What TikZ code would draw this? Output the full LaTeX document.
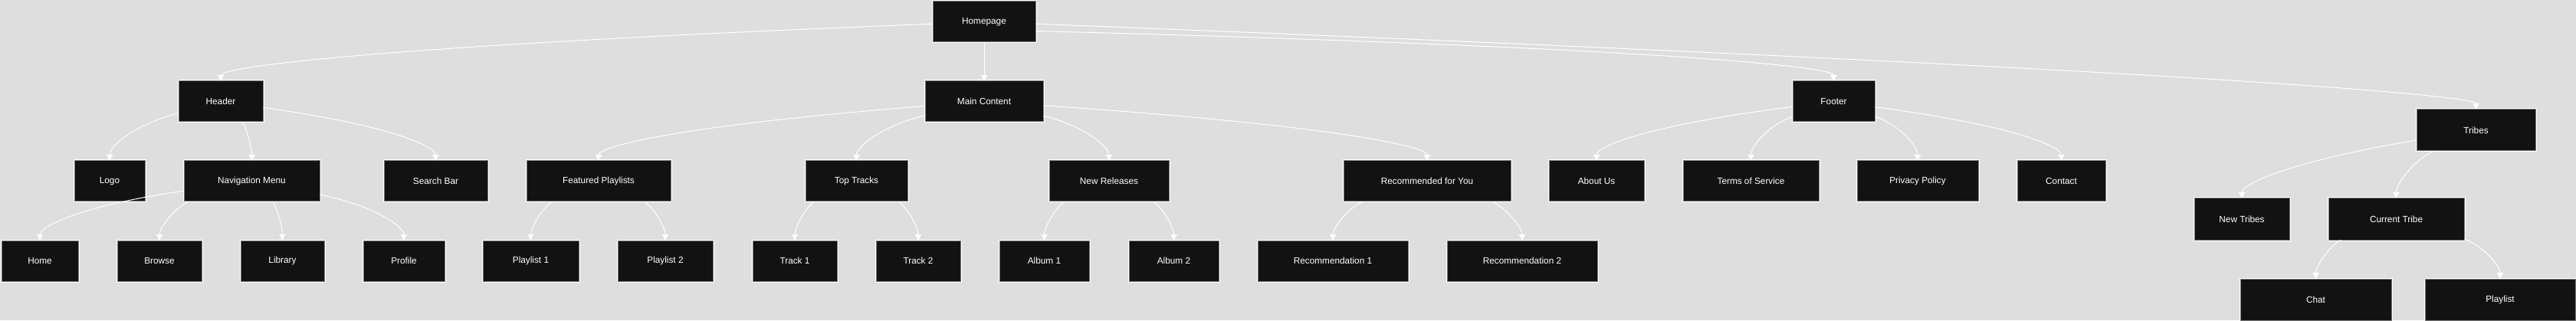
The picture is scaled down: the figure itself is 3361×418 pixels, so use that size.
\documentclass[tikz,border=0pt]{standalone}
\usepackage{fontspec}
\setmainfont{Liberation Sans}
\usepackage{tikz}
\usetikzlibrary{arrows.meta,calc}
\usepackage{xcolor}
\definecolor{canvas}{HTML}{DEDEDE}
\definecolor{boxfill}{HTML}{121212}
\definecolor{boxline}{HTML}{7A7A7A}

\begin{document}
\begin{tikzpicture}[x=1pt, y=1pt,
  page/.style={fill=boxfill, draw=boxline, line width=1pt,
    preaction={draw=white, line width=3pt},
    text=white, font=\fontsize{11.8}{14}\selectfont,
    minimum height=53pt, inner sep=0pt},
  link/.style={white, line width=1pt, -{Triangle[width=8.5pt,length=7.5pt]}}]
  \useasboundingbox (0,0) rectangle (3361,418);
  \fill[canvas] (0,0) rectangle (3361,418);
  % top level
  \node[page, minimum width=134pt] (home) at (1284,389.5) {Homepage};
  \node[page, minimum width=110pt] (hdr) at (288,285.5) {Header};
  \node[page, minimum width=154pt] (main) at (1284,285.5) {Main Content};
  \node[page, minimum width=107pt] (foot) at (2392.5,285.5) {Footer};
  \node[page, minimum width=155pt, minimum height=54pt] (tribes) at (3230.5,248) {Tribes};
  % sections
  \node[page, minimum width=92pt] (logo) at (143,181.5) {Logo};
  \node[page, minimum width=177pt] (nav) at (328.5,181.5) {Navigation Menu};
  \node[page, minimum width=135pt] (search) at (568.5,181.5) {Search Bar};
  \node[page, minimum width=188pt] (feat) at (781,181.5) {Featured Playlists};
  \node[page, minimum width=133pt] (top) at (1117.5,181.5) {Top Tracks};
  \node[page, minimum width=156pt] (newrel) at (1447,181.5) {New Releases};
  \node[page, minimum width=218pt] (rec) at (1862,181.5) {Recommended for You};
  \node[page, minimum width=124pt] (about) at (2083,181.5) {About Us};
  \node[page, minimum width=177pt] (terms) at (2284.5,181.5) {Terms of Service};
  \node[page, minimum width=158pt] (privacy) at (2502,181.5) {Privacy Policy};
  \node[page, minimum width=115pt] (contact) at (2689.5,181.5) {Contact};
  \node[page, minimum width=124pt, minimum height=54pt] (newtr) at (2925,132) {New Tribes};
  \node[page, minimum width=177pt, minimum height=54pt] (curtr) at (3126.5,132) {Current Tribe};
  % leaves
  \node[page, minimum width=100pt] (homebtn) at (52,77.5) {Home};
  \node[page, minimum width=110pt] (browse) at (208,77.5) {Browse};
  \node[page, minimum width=109pt] (library) at (368.5,77.5) {Library};
  \node[page, minimum width=106pt] (profile) at (527,77.5) {Profile};
  \node[page, minimum width=125pt] (pl1) at (692.5,77.5) {Playlist 1};
  \node[page, minimum width=124pt] (pl2) at (868,77.5) {Playlist 2};
  \node[page, minimum width=110pt] (tr1) at (1037,77.5) {Track 1};
  \node[page, minimum width=110pt] (tr2) at (1198,77.5) {Track 2};
  \node[page, minimum width=117pt] (al1) at (1362.5,77.5) {Album 1};
  \node[page, minimum width=117pt] (al2) at (1531.5,77.5) {Album 2};
  \node[page, minimum width=196pt] (rec1) at (1739,77.5) {Recommendation 1};
  \node[page, minimum width=196pt] (rec2) at (1986,77.5) {Recommendation 2};
  \node[page, minimum width=197pt, minimum height=54pt] (chat) at (3021.5,27) {Chat};
  \node[page, minimum width=196pt, minimum height=54pt] (plist) at (3262,27) {Playlist};
  % links
  \foreach \a/\b in {home/hdr, home/main, home/tribes,
      hdr/logo, hdr/nav, hdr/search,
      nav/homebtn, nav/browse, nav/library, nav/profile,
      main/feat, main/top, main/newrel, main/rec,
      feat/pl1, feat/pl2, top/tr1, top/tr2,
      newrel/al1, newrel/al2, rec/rec1, rec/rec2,
      foot/about, foot/terms, foot/privacy, foot/contact,
      tribes/newtr, tribes/curtr, curtr/chat, curtr/plist}
    \draw[link] (\a) .. controls ($(\a)!0.8!(\b.north)+(0,30)$)
      and ($(\b.north)+(0,18)$) .. (\b.north);
  \draw[link] ([yshift=-12pt]home.east) .. controls ($(home)!0.8!(foot.north)+(0,28)$)
    and ($(foot.north)+(0,18)$) .. (foot.north);
\end{tikzpicture}
\end{document}
